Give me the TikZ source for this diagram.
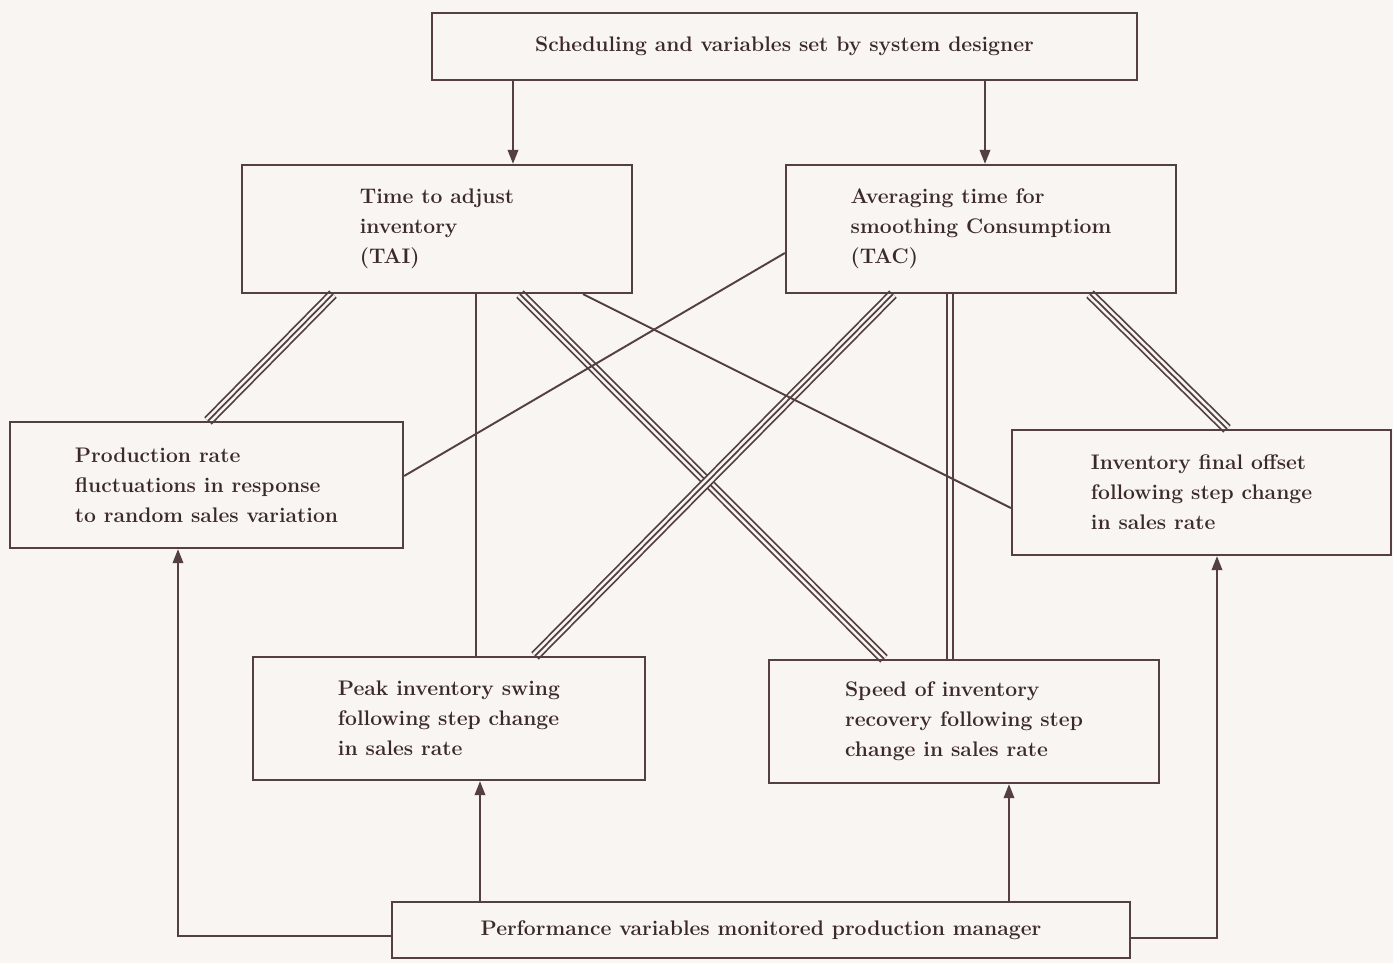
\documentclass[tikz,border=0pt]{standalone}
\usepackage{tikz}
\usetikzlibrary{arrows.meta,calc}

\definecolor{paper}{RGB}{248,245,242}
\definecolor{ink}{RGB}{84,64,64}
\definecolor{txt}{RGB}{60,42,42}

\pgfdeclarelayer{paperlayer}
\pgfdeclarelayer{links}
\pgfsetlayers{paperlayer,links,main}

\tikzset{
  box/.style={draw=ink, line width=1.3pt, align=left, inner sep=0pt,
    text=txt, font=\bfseries\fontsize{12}{17}\selectfont},
  widebox/.style={box, align=center, font=\bfseries\fontsize{12}{14}\selectfont},
  single/.style={draw=ink, line width=1.1pt},
  twin/.style={draw=ink, line width=1pt, double=paper, double distance=2.6pt},
  triple/.style={line width=1pt, draw=ink,
    preaction={draw=ink, line width=6pt},
    preaction={draw=paper, line width=4pt}},
  arr/.style={single, -{Triangle[length=8pt,width=6pt]}}
}

\begin{document}
\begin{tikzpicture}[x=0.02cm,y=-0.02cm]
   \begin{pgfonlayer}{paperlayer}
   \fill[paper] (0,0) rectangle (1393,963);
   \end{pgfonlayer}
   \useasboundingbox (0,0) rectangle (1393,963);

   % boxes
   \node[widebox, minimum width=14.1cm, minimum height=1.34cm] (top) at (784.5,46.5)
      {Scheduling and variables set by system designer};
   \node[box, minimum width=7.8cm, minimum height=2.56cm] (tai) at (437,229)
      {Time to adjust\\inventory\\(TAI)};
   \node[box, minimum width=7.8cm, minimum height=2.56cm] (tac) at (981,229)
      {Averaging time for\\smoothing Consumptiom\\(TAC)};
   \node[box, minimum width=7.86cm, minimum height=2.52cm] (prod) at (206.5,485)
      {Production rate\\fluctuations in response\\to random sales variation};
   \node[box, minimum width=7.58cm, minimum height=2.5cm] (inv) at (1201.5,492.5)
      {Inventory final offset\\following step change\\in sales rate};
   \node[box, minimum width=7.84cm, minimum height=2.46cm] (peak) at (449,718.5)
      {Peak inventory swing\\following step change\\in sales rate};
   \node[box, minimum width=7.8cm, minimum height=2.46cm] (speed) at (964,721.5)
      {Speed of inventory\\recovery following step\\change in sales rate};
   \node[widebox, minimum width=14.76cm, minimum height=1.12cm] (bottom) at (761,930)
      {Performance variables monitored production manager};

   \begin{pgfonlayer}{links}
   % strong links
   \draw[triple] ($(tai.south)+(-104,0)$) -- ($(prod.north)+(1.5,0)$);
   \draw[triple] ($(tai.south)+(83,0)$) -- ($(speed.north)+(-80,0)$);
   \draw[triple] ($(tac.south)+(-88,0)$) -- ($(peak.north)+(86,0)$);
   \draw[triple] ($(tac.south)+(109,0)$) -- ($(inv.north)+(25.5,0)$);
   % medium link
   \draw[twin] ($(tac.south)+(-31,0)$) -- ($(speed.north)+(-14,0)$);
   % weak links
   \draw[single] ($(tai.south)+(39,0)$) -- ($(peak.north)+(27,0)$);
   \draw[single] ($(tai.south)+(146,0)$) -- ($(inv.west)+(0,15.5)$);
   \draw[single] ($(tac.west)+(0,24)$) -- ($(prod.east)+(0,-9)$);
   \end{pgfonlayer}

   % arrows
   \draw[arr] ($(top.south)+(-271.5,0)$) -- ($(tai.north)+(76,0)$);
   \draw[arr] ($(top.south)+(200.5,0)$) -- ($(tac.north)+(4,0)$);
   \draw[arr] ($(bottom.north)+(-281,0)$) -- ($(peak.south)+(31,0)$);
   \draw[arr] ($(bottom.north)+(248,0)$) -- ($(speed.south)+(45,0)$);
   \draw[arr] ($(bottom.west)+(0,6)$) -| ($(prod.south)+(-28.5,0)$);
   \draw[arr] ($(bottom.east)+(0,8)$) -| ($(inv.south)+(15.5,0)$);

\end{tikzpicture}
\end{document}
